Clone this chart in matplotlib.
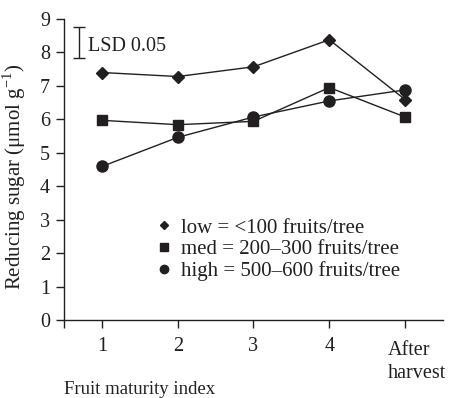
import matplotlib
matplotlib.use("Agg")
import matplotlib.pyplot as plt
import matplotlib.transforms as mtransforms
from matplotlib.lines import Line2D

plt.rcParams['font.family'] = ['Liberation Serif', 'DejaVu Serif']
plt.rcParams['mathtext.fontset'] = 'custom'
plt.rcParams['mathtext.rm'] = 'Liberation Serif'

# data
x_pos = [1, 2, 3, 4, 5]
x_labels = ['1', '2', '3', '4', '']
low = [7.40, 7.28, 7.57, 8.38, 6.59]
med = [5.97, 5.84, 5.94, 6.95, 6.07]
high = [4.59, 5.46, 6.07, 6.55, 6.88]
series_labels = ['low = <100 fruits/tree', 'med = 200\u2013300 fruits/tree',
                 'high = 500\u2013600 fruits/tree']
lsd_center = 8.30
lsd_value = 0.95

ink = '#231f20'

fig = plt.figure(figsize=(4.5, 3.98), dpi=100)
ax = fig.add_axes([64/450, 78/398, 379/450, 301/398])

ax.plot(x_pos, low, color=ink, lw=1.0, marker='D', ms=6.5, mfc=ink, mec=ink)
ax.plot(x_pos, med, color=ink, lw=1.0, marker='s', ms=7.5, mfc=ink, mec=ink)
ax.plot(x_pos, high, color=ink, lw=1.0, marker='o', ms=8, mfc=ink, mec=ink)

# LSD bar
ax.errorbar([0.70], [lsd_center], yerr=[lsd_value / 2], color=ink, lw=1.0,
            capsize=4.5, capthick=1.0, fmt='none')
ax.text(0.82, 8.18, 'LSD 0.05', fontsize=14.5, color=ink, ha='left', va='center')

ax.set_xlim(0.5, 5.5)
ax.set_ylim(0, 9)
ax.set_yticks(range(0, 10))
ax.set_xticks(x_pos)
ax.set_xticklabels(x_labels)
ax.set_xticks([0.5], minor=True)
for s in ['top', 'right']:
    ax.spines[s].set_visible(False)
for s in ['left', 'bottom']:
    ax.spines[s].set_color(ink)
    ax.spines[s].set_linewidth(1.0)
ax.tick_params(axis='both', which='both', direction='out', length=6, width=1.0,
               color=ink, labelcolor=ink, labelsize=14.5)
ax.tick_params(axis='x', pad=6)
ax.tick_params(axis='y', pad=4)

off = mtransforms.offset_copy(ax.get_xaxis_transform(), fig=fig, x=12, y=0, units='dots')
ax.text(5, -0.07, 'After\nharvest', transform=off, ha='center', va='top',
        multialignment='left', fontsize=14.5, color=ink, linespacing=1.3)

ax.set_ylabel('Reducing sugar (\u03bcmol g$^{-1}$)', fontsize=15, color=ink)
ax.yaxis.set_label_coords(-0.094, 0.475)
fig.text(64/450, 1 - 390/398, 'Fruit maturity index', fontsize=13.5, color=ink,
         ha='left', va='center')

handles = [Line2D([], [], ls='none', marker='D', ms=4, color=ink),
           Line2D([], [], ls='none', marker='s', ms=5.8, color=ink),
           Line2D([], [], ls='none', marker='o', ms=6, color=ink)]
leg = ax.legend(handles, series_labels, loc='upper left', bbox_to_anchor=(0.243, 0.339),
                frameon=False, fontsize=15, handlelength=0.8, handletextpad=0.4,
                labelspacing=0.1, borderpad=0, borderaxespad=0)
for t in leg.get_texts():
    t.set_color(ink)

fig.savefig('out.png', dpi=100)
